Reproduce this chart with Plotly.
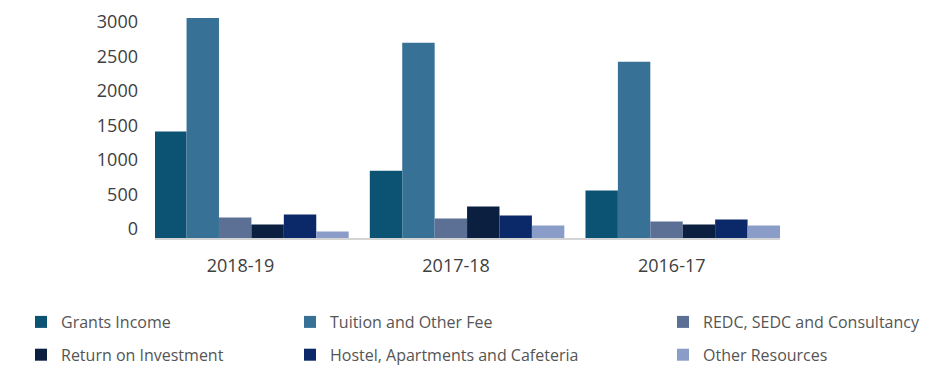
import plotly.graph_objects as go

years = ["2018-19", "2017-18", "2016-17"]
grants_income = [1540, 975, 686]
tuition_fee = [3186, 2825, 2551]
redc_sedc = [296, 282, 238]
return_on_investment = [195, 455, 195]
hostel_cafeteria = [340, 325, 267]
other_resources = [94, 181, 181]

series = [
    ("Grants Income", grants_income, "#0c5373", "legend"),
    ("Tuition and Other Fee", tuition_fee, "#377296", "legend2"),
    ("REDC, SEDC and Consultancy", redc_sedc, "#5c7096", "legend3"),
    ("Return on Investment", return_on_investment, "#0b1f40", "legend"),
    ("Hostel, Apartments and Cafeteria", hostel_cafeteria, "#0b2869", "legend2"),
    ("Other Resources", other_resources, "#8a9dc8", "legend3"),
]

fig = go.Figure()
for i, (name, vals, color, lg) in enumerate(series):
    fig.add_trace(go.Bar(
        x=years, y=vals, name=name, marker_color=color, marker_line_width=0,
        legend=lg, legendgroup=f"g{i}",
    ))

font_family = "Open Sans"
legend_common = dict(
    orientation="v", xref="container", yref="container", xanchor="left", yanchor="top",
    font=dict(family=font_family, size=16, color="#555555"),
    tracegroupgap=9, bgcolor="rgba(0,0,0,0)", borderwidth=0,
)

legend_top = 1 - 305 / 370

fig.update_layout(
    width=944, height=370,
    margin=dict(l=155, r=163.5, t=10, b=131.5, autoexpand=False),
    paper_bgcolor="white", plot_bgcolor="white",
    barmode="group", bargap=0.098, bargroupgap=0,
    font=dict(family=font_family, color="#404040"),
    xaxis=dict(
        type="category", range=[-0.447, 2.451], automargin=False,
        showline=True, linecolor="#d4d4d4", linewidth=2,
        showgrid=False, ticks="", zeroline=False,
        tickfont=dict(size=18, color="#404040"),
        ticklabelshift=-11, ticklabelstandoff=10,
    ),
    yaxis=dict(
        range=[0, 3300], tickvals=[0, 500, 1000, 1500, 2000, 2500, 3000],
        automargin=False,
        showgrid=False, zeroline=False, showline=False, ticks="",
        tickfont=dict(size=18, color="#404040"),
        ticklabelshift=-9, ticklabelstandoff=16,
    ),
    legend=dict(x=21 / 944, y=legend_top, **legend_common),
    legend2=dict(x=290 / 944, y=legend_top, **legend_common),
    legend3=dict(x=663 / 944, y=legend_top, **legend_common),
)

fig.write_html(
    "out.html",
    config={"displayModeBar": False},
    post_script="document.body.style.margin='0';",
)
